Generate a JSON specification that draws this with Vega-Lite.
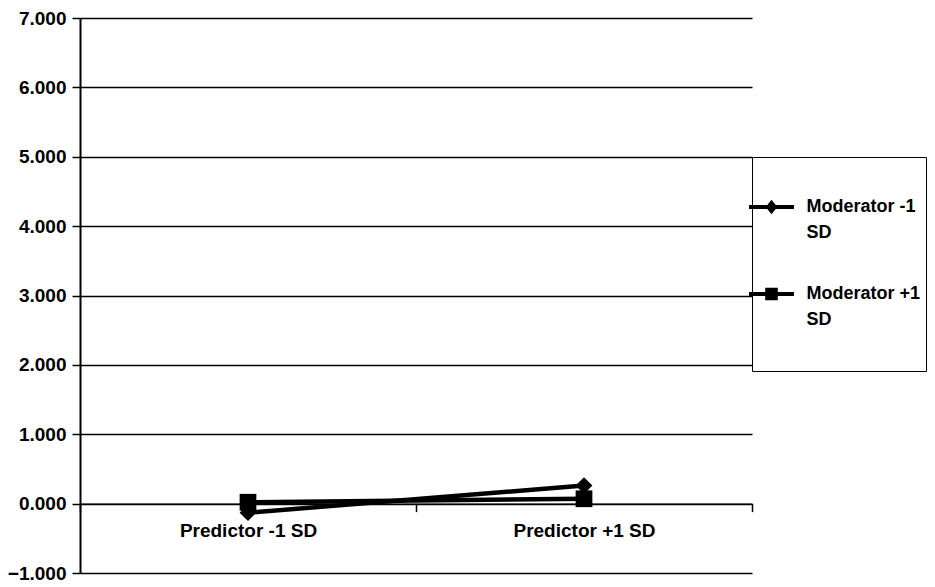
{
  "$schema": "https://vega.github.io/schema/vega-lite/v6.json",
  "width": 672,
  "height": 555,
  "autosize": {"type": "none"},
  "padding": {"left": 80, "top": 18, "right": 183, "bottom": 14},
  "background": "white",
  "config": {
    "view": {"stroke": null},
    "font": "Liberation Sans",
    "axis": {"labelFont": "Liberation Sans", "labelFontWeight": "bold", "labelColor": "black"},
    "legend": {"labelFont": "Liberation Sans", "labelFontWeight": "bold", "labelColor": "black"},
    "style": {"guide-label": {"lineHeight": 26}}
  },
  "data": {
    "values": [
      {"predictor": "Predictor -1 SD", "series": "Moderator -1 SD", "value": -0.13},
      {"predictor": "Predictor +1 SD", "series": "Moderator -1 SD", "value": 0.26},
      {"predictor": "Predictor -1 SD", "series": "Moderator +1 SD", "value": 0.02},
      {"predictor": "Predictor +1 SD", "series": "Moderator +1 SD", "value": 0.07}
    ]
  },
  "encoding": {
    "x": {
      "field": "predictor",
      "type": "nominal",
      "sort": ["Predictor -1 SD", "Predictor +1 SD"],
      "scale": {"type": "band", "paddingInner": 0, "paddingOuter": 0},
      "axis": {
        "title": null,
        "orient": "bottom",
        "offset": -69.375,
        "labelAngle": 0,
        "labelFontSize": 19,
        "labelPadding": 10,
        "tickBand": "extent",
        "tickSize": 8,
        "tickColor": "black",
        "tickWidth": 1.5,
        "domainColor": "black",
        "domainWidth": 1.5,
        "grid": false
      }
    },
    "y": {
      "field": "value",
      "type": "quantitative",
      "scale": {"domain": [-1, 7], "nice": false, "zero": false},
      "axis": {
        "title": null,
        "values": [-1, 0, 1, 2, 3, 4, 5, 6, 7],
        "format": ".3f",
        "labelFontSize": 19,
        "labelPadding": 6,
        "tickSize": 8,
        "tickColor": "black",
        "tickWidth": 1.5,
        "domainColor": "black",
        "domainWidth": 2,
        "grid": true,
        "gridColor": "black",
        "gridWidth": 1.5,
        "gridOpacity": 1
      }
    }
  },
  "layer": [
    {
      "mark": {"type": "line", "color": "black", "strokeWidth": 4.5},
      "encoding": {"detail": {"field": "series", "type": "nominal"}}
    },
    {
      "mark": {"type": "point", "filled": true, "color": "black", "size": 280, "opacity": 1},
      "encoding": {
        "shape": {
          "field": "series",
          "type": "nominal",
          "scale": {"domain": ["Moderator -1 SD", "Moderator +1 SD"], "range": ["diamond", "square"]},
          "legend": null
        }
      }
    },
    {
      "mark": {"type": "point", "filled": true, "fill": "black", "size": 10, "opacity": 0},
      "encoding": {
        "shape": {
          "field": "series",
          "type": "nominal",
          "scale": {
            "domain": ["Moderator -1 SD", "Moderator +1 SD"],
            "range": [
              "M0,-1M-0.5,-0.045H0.5V0.045H-0.5ZM0,-0.16L0.13,0L0,0.16L-0.13,0Z",
              "M0,-1M0,1.58M-0.5,-0.045H0.5V0.045H-0.5ZM-0.14,-0.14H0.14V0.14H-0.14Z"
            ]
          },
          "legend": {
            "title": null,
            "orient": "none",
            "legendX": 672,
            "legendY": 139,
            "padding": 5,
            "strokeColor": "black",
            "fillColor": "white",
            "rowPadding": 7,
            "symbolSize": 8100,
            "symbolOffset": -30.5,
            "symbolFillColor": "black",
            "symbolStrokeColor": "black",
            "symbolStrokeWidth": 0,
            "symbolOpacity": 1,
            "labelFontSize": 18,
            "labelOffset": -10,
            "labelLimit": 300,
            "labelExpr": "[replace(datum.label, ' SD', ''), 'SD']",
            "encode": {
              "symbols": {
                "update": {
                  "size": {"value": 8100},
                  "fill": {"value": "black"},
                  "fillOpacity": {"value": 1},
                  "opacity": {"value": 1}
                }
              },
              "labels": {
                "enter": {"lineHeight": {"value": 26}},
                "update": {"dy": {"value": 13}, "lineHeight": {"value": 26}}
              }
            }
          }
        }
      }
    }
  ],
  "resolve": {"scale": {"shape": "independent"}, "legend": {"shape": "independent"}}
}
